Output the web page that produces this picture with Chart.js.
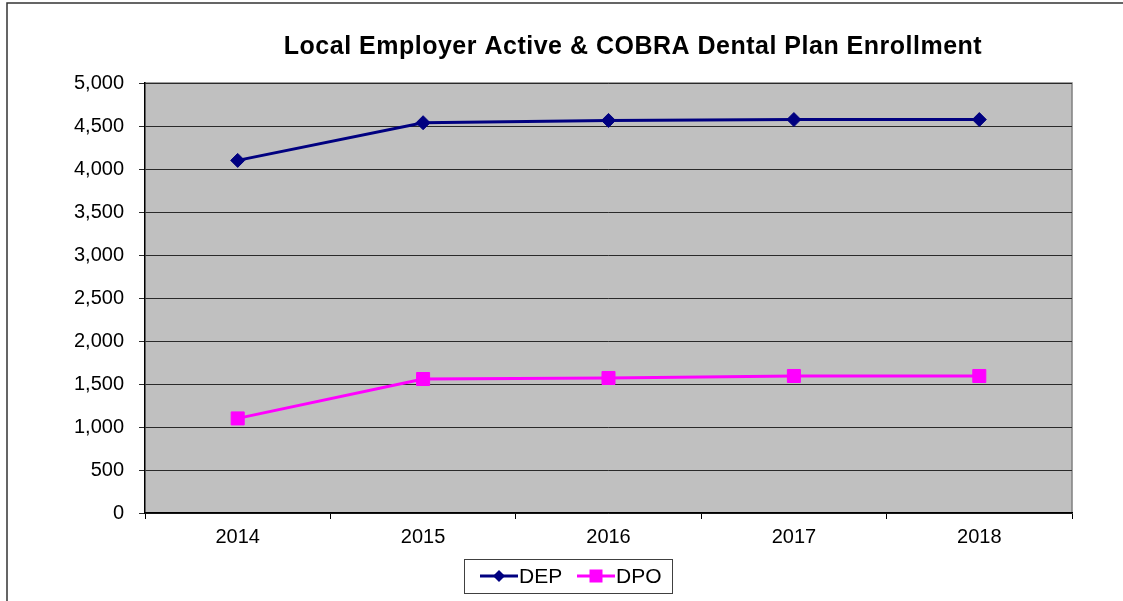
<!DOCTYPE html>
<html>
<head>
<meta charset="utf-8">
<script src="https://cdn.jsdelivr.net/npm/chart.js@4/dist/chart.umd.min.js"></script>
<style>
  html, body { margin: 0; padding: 0; background: #fff; }
  #wrap { width: 1123px; height: 601px; position: relative; }
</style>
</head>
<body>
<div id="wrap"><canvas id="myChart" width="1123" height="601"></canvas></div>
<script>
var chartTitle = "Local Employer Active & COBRA Dental Plan Enrollment";
var years = ["2014", "2015", "2016", "2017", "2018"];
var depValues = [4100, 4538, 4565, 4575, 4575];
var dpoValues = [1100, 1558, 1570, 1593, 1593];
var yTicks = [0, 500, 1000, 1500, 2000, 2500, 3000, 3500, 4000, 4500, 5000];

var FONT = "'Liberation Sans', Arial, sans-serif";

// grey plot area, outer frame and title
var backdrop = {
  id: "backdrop",
  beforeDraw: function(chart) {
    var ctx = chart.ctx, a = chart.chartArea;
    ctx.save();
    ctx.fillStyle = "#c0c0c0";
    ctx.fillRect(a.left, a.top, a.right - a.left, a.bottom - a.top);
    ctx.strokeStyle = "#808080";
    ctx.lineWidth = 1.5;
    ctx.beginPath();
    ctx.moveTo(a.left, a.top);
    ctx.lineTo(a.right, a.top);
    ctx.lineTo(a.right, a.bottom);
    ctx.stroke();
    // outer frame
    ctx.strokeStyle = "#333";
    ctx.lineWidth = 1.5;
    ctx.beginPath();
    ctx.moveTo(7, 601);
    ctx.lineTo(7, 3);
    ctx.lineTo(1123, 3);
    ctx.stroke();
    // title
    ctx.fillStyle = "#000";
    ctx.font = "bold 25px " + FONT;
    ctx.letterSpacing = "0.5px";
    ctx.textAlign = "center";
    ctx.textBaseline = "middle";
    ctx.fillText(chartTitle, 633, 47);
    ctx.restore();
  }
};

function drawMarker(ctx, style, x, y, color) {
  ctx.fillStyle = color;
  ctx.beginPath();
  if (style === "rect") {
    ctx.rect(x - 6.5, y - 6.5, 13, 13);
  } else {
    ctx.moveTo(x, y - 6);
    ctx.lineTo(x + 6, y);
    ctx.lineTo(x, y + 6);
    ctx.lineTo(x - 6, y);
    ctx.closePath();
  }
  ctx.fill();
}

// legend in a box, line + marker like the original
var boxLegend = {
  id: "boxLegend",
  afterDraw: function(chart) {
    var ctx = chart.ctx;
    ctx.save();
    ctx.strokeStyle = "#404040";
    ctx.lineWidth = 1;
    ctx.strokeRect(464.5, 559.5, 208, 34);
    var starts = [480, 577];
    ctx.font = "21px " + FONT;
    ctx.textBaseline = "middle";
    ctx.textAlign = "left";
    chart.data.datasets.forEach(function(ds, i) {
      var x0 = starts[i], y = 576;
      ctx.strokeStyle = ds.borderColor;
      ctx.lineWidth = 3;
      ctx.beginPath();
      ctx.moveTo(x0, y);
      ctx.lineTo(x0 + 38, y);
      ctx.stroke();
      drawMarker(ctx, ds.pointStyle, x0 + 19, y, ds.pointBackgroundColor);
      ctx.fillStyle = "#000";
      ctx.fillText(ds.label, x0 + 39, y + 1);
    });
    ctx.restore();
  }
};

var ctx = document.getElementById("myChart").getContext("2d");
var chart = new Chart(ctx, {
  type: "line",
  data: {
    labels: years,
    datasets: [{
      label: "DEP",
      data: depValues,
      borderColor: "#000080",
      backgroundColor: "#000080",
      pointBackgroundColor: "#000080",
      pointBorderColor: "#000080",
      pointStyle: "rectRot",
      pointRadius: 7,
      pointBorderWidth: 1,
      borderWidth: 3,
      tension: 0,
      fill: false
    }, {
      label: "DPO",
      data: dpoValues,
      borderColor: "#ff00ff",
      backgroundColor: "#ff00ff",
      pointBackgroundColor: "#ff00ff",
      pointBorderColor: "#ff00ff",
      pointStyle: "rect",
      pointRadius: 9.2,
      pointBorderWidth: 1,
      borderWidth: 3,
      tension: 0,
      fill: false
    }]
  },
  options: {
    responsive: false,
    animation: false,
    layout: { padding: { left: 0, right: 51, top: 83, bottom: 0 } },
    plugins: {
      legend: { display: false },
      title: { display: false },
      tooltip: { enabled: false }
    },
    scales: {
      x: {
        offset: true,
        afterFit: function(scale) { scale.height = 88; },
        grid: {
          offset: true,
          drawOnChartArea: false,
          drawTicks: true,
          tickLength: 6,
          color: "#000",
          lineWidth: 1
        },
        border: { color: "#000", width: 1.5 },
        ticks: {
          color: "#000",
          padding: 6,
          font: { family: FONT, size: 20 }
        }
      },
      y: {
        min: 0,
        max: 5000,
        afterFit: function(scale) { scale.width = 145; },
        afterBuildTicks: function(scale) {
          scale.ticks = yTicks.map(function(v) { return { value: v }; });
        },
        grid: {
          drawTicks: true,
          tickLength: 6,
          color: "#2a2a2a",
          lineWidth: 1
        },
        border: { color: "#000", width: 1.5 },
        ticks: {
          color: "#000",
          padding: 15,
          font: { family: FONT, size: 20 },
          callback: function(v) { return v.toLocaleString("en-US"); }
        }
      }
    }
  },
  plugins: [backdrop, boxLegend]
});
</script>
</body>
</html>
